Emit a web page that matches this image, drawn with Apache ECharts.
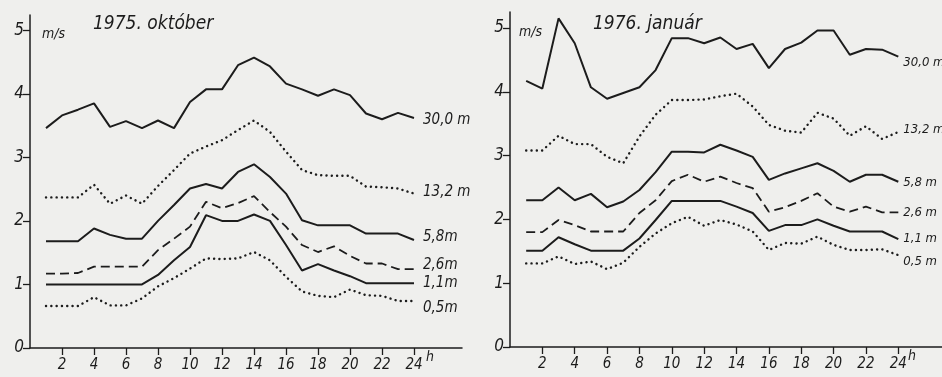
<!DOCTYPE html>
<html>
<head>
<meta charset="utf-8">
<script src="https://cdn.jsdelivr.net/npm/echarts@6/dist/echarts.min.js"></script>
<style>
  html, body { margin: 0; padding: 0; background: #efefed; }
  #main { width: 942px; height: 377px; }
</style>
</head>
<body>
<div id="main"></div>
<script>
// órák
var hours = [1,2,3,4,5,6,7,8,9,10,11,12,13,14,15,16,17,18,19,20,21,22,23,24];
var tickHours = [2,4,6,8,10,12,14,16,18,20,22,24];
var yTicks = [0,1,2,3,4,5];

// 1975. október
var oct30 = [3.46,3.66,3.75,3.85,3.48,3.57,3.46,3.58,3.46,3.87,4.07,4.07,4.45,4.57,4.43,4.16,4.07,3.97,4.07,3.98,3.69,3.60,3.70,3.62];
var oct13 = [2.37,2.37,2.37,2.57,2.27,2.40,2.27,2.55,2.80,3.06,3.17,3.27,3.43,3.58,3.40,3.09,2.80,2.72,2.71,2.71,2.54,2.53,2.51,2.43];
var oct58 = [1.68,1.68,1.68,1.88,1.78,1.72,1.72,2.00,2.25,2.51,2.58,2.51,2.77,2.89,2.69,2.43,2.01,1.93,1.93,1.93,1.80,1.80,1.80,1.70];
var oct26 = [1.17,1.17,1.18,1.28,1.28,1.28,1.28,1.54,1.72,1.91,2.30,2.20,2.28,2.39,2.14,1.91,1.62,1.51,1.60,1.45,1.33,1.33,1.24,1.24];
var oct11 = [1.00,1.00,1.00,1.00,1.00,1.00,1.00,1.15,1.38,1.59,2.09,2.00,2.00,2.10,2.00,1.62,1.22,1.32,1.22,1.13,1.02,1.02,1.02,1.02];
var oct05 = [0.66,0.66,0.66,0.80,0.67,0.67,0.78,0.97,1.10,1.25,1.41,1.40,1.41,1.51,1.38,1.12,0.89,0.82,0.80,0.92,0.83,0.82,0.74,0.74];

// 1976. január
var jan30 = [4.17,4.05,5.15,4.76,4.07,3.89,3.98,4.07,4.34,4.84,4.84,4.76,4.85,4.67,4.75,4.37,4.67,4.77,4.96,4.96,4.58,4.67,4.66,4.55];
var jan13 = [3.08,3.08,3.31,3.18,3.18,2.98,2.88,3.30,3.64,3.87,3.87,3.88,3.93,3.97,3.77,3.48,3.39,3.36,3.67,3.58,3.31,3.46,3.26,3.37];
var jan58 = [2.30,2.30,2.50,2.30,2.40,2.19,2.28,2.46,2.74,3.06,3.06,3.05,3.17,3.08,2.98,2.62,2.72,2.80,2.88,2.76,2.59,2.70,2.70,2.59];
var jan26 = [1.80,1.80,1.99,1.91,1.81,1.81,1.81,2.10,2.30,2.60,2.70,2.59,2.67,2.57,2.49,2.12,2.19,2.29,2.41,2.20,2.12,2.20,2.11,2.11];
var jan11 = [1.51,1.51,1.72,1.61,1.51,1.51,1.51,1.70,1.99,2.29,2.29,2.29,2.29,2.20,2.10,1.82,1.91,1.91,2.00,1.90,1.81,1.81,1.81,1.69];
var jan05 = [1.31,1.31,1.42,1.30,1.34,1.22,1.32,1.57,1.78,1.94,2.04,1.90,1.99,1.92,1.81,1.52,1.63,1.62,1.73,1.60,1.52,1.52,1.53,1.44];

var octLabels = ['30,0 m','13,2 m','5,8m','2,6m','1,1m','0,5m'];
var janLabels = ['30,0 m','13,2 m','5,8 m','2,6 m','1,1 m','0,5 m'];

var ink = '#1c1c1c';
var font = "'Liberation Sans Narrow', 'DejaVu Sans Condensed', sans-serif";

// vonaltípusok: tömör, pontozott, szaggatott
var solid = { type: 'solid', width: 2 };
var dotted = { type: [0.1, 5.2], width: 2.4, cap: 'round' };
var dashed = { type: [9, 5], width: 1.8 };
var styles = [solid, dotted, solid, dashed, solid, dotted];
var octOffsets = [[1, 2], [1, -1], [1, -3], [1, -4], [1, 0], [1, 7]];
var janOffsets = [[-3, 6], [-3, -2], [-3, 1], [-3, 0], [-3, -1], [-3, 7]];

function pairs(vals) {
	return hours.map(function(h, i) { return [h, vals[i]]; });
}

function makeSeries(list, labels, offsets, idx, fs) {
	return list.map(function(vals, i) {
		return {
			name: labels[i],
			type: 'line',
			xAxisIndex: idx,
			yAxisIndex: idx,
			data: pairs(vals),
			showSymbol: false,
			symbol: 'none',
			silent: true,
			animation: false,
			lineStyle: {
				color: ink,
				width: styles[i].width,
				type: styles[i].type,
				cap: styles[i].cap || 'butt'
			},
			endLabel: {
				show: true,
				formatter: labels[i],
				color: ink,
				fontFamily: font,
				fontStyle: 'italic',
				fontSize: fs,
				offset: offsets[i]
			}
		};
	});
}

function xAxis(idx, max, gap) {
	return {
		type: 'value',
		gridIndex: idx,
		min: 0,
		max: max,
		splitLine: { show: false },
		axisLine: { lineStyle: { color: ink, width: 1.5 } },
		axisTick: { customValues: tickHours, length: 7, lineStyle: { color: ink, width: 1.3 } },
		axisLabel: {
			customValues: tickHours,
			color: ink,
			fontFamily: font,
			fontStyle: 'italic',
			fontSize: 15,
			margin: 10
		},
		// "h" a 24 után, felső indexben
		name: 'h',
		nameLocation: 'end',
		nameGap: gap,
		nameMoveOverlap: false,
		nameTextStyle: {
			color: ink,
			fontFamily: font,
			fontStyle: 'italic',
			fontSize: 14,
			verticalAlign: 'top',
			padding: [2, 0, 0, 0]
		}
	};
}

function yAxis(idx, max) {
	return {
		type: 'value',
		gridIndex: idx,
		min: 0,
		max: max,
		splitLine: { show: false },
		axisLine: { show: true, lineStyle: { color: ink, width: 1.5 } },
		axisTick: { show: true, customValues: yTicks, length: 7, lineStyle: { color: ink, width: 1.3 } },
		axisLabel: {
			customValues: yTicks,
			color: ink,
			fontFamily: font,
			fontStyle: 'italic',
			fontSize: 17,
			margin: 6
		}
	};
}

var chart = echarts.init(document.getElementById('main'));

var option = {
	backgroundColor: '#efefed',
	animation: false,
	title: [
		{ text: '1975. október', left: 88, top: 10,
		  textStyle: { color: ink, fontFamily: font, fontStyle: 'italic', fontWeight: 'normal', fontSize: 19 } },
		{ text: 'm/s', left: 37, top: 22,
		  textStyle: { color: ink, fontFamily: font, fontStyle: 'italic', fontWeight: 'normal', fontSize: 14 } },
		{ text: '1976. január', left: 588, top: 10,
		  textStyle: { color: ink, fontFamily: font, fontStyle: 'italic', fontWeight: 'normal', fontSize: 19 } },
		{ text: 'm/s', left: 514, top: 20,
		  textStyle: { color: ink, fontFamily: font, fontStyle: 'italic', fontWeight: 'normal', fontSize: 14 } }
	],
	grid: [
		{ left: 30, top: 15, width: 432, height: 333, outerBoundsMode: 'none' },
		{ left: 510, top: 12, right: 0, height: 335, outerBoundsMode: 'none' }
	],
	xAxis: [xAxis(0, 27, -36), xAxis(1, 26.7, -34)],
	yAxis: [yAxis(0, 5.24), yAxis(1, 5.25)],
	series: makeSeries([oct30, oct13, oct58, oct26, oct11, oct05], octLabels, octOffsets, 0, 15)
		.concat(makeSeries([jan30, jan13, jan58, jan26, jan11, jan05], janLabels, janOffsets, 1, 13))
};

chart.setOption(option);
</script>
</body>
</html>
